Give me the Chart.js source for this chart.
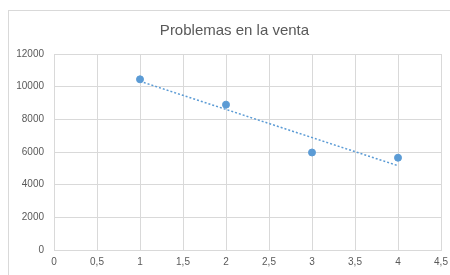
<!DOCTYPE html>
<html>
<head>
<meta charset="utf-8">
<script src="https://cdn.jsdelivr.net/npm/chart.js@4"></script>
<style>
  html, body { margin: 0; padding: 0; background: #fff; }
  #wrap { position: relative; width: 450px; height: 275px; overflow: hidden; }
  #frame { position: absolute; left: 8px; top: 10px; width: 460px; height: 290px; border: 1px solid #d9d9d9; box-sizing: border-box; }
  canvas { position: absolute; left: 0; top: 0; }
</style>
</head>
<body>
<div id="wrap">
  <div id="frame"></div>
  <canvas id="chart" width="450" height="275"></canvas>
</div>
<script>
// values
const xValues = [1, 2, 3, 4];
const salesValues = [10450, 8900, 5970, 5650];
// linear trendline, end points as drawn in the reference
const trendX = [1, 4];
const trendY = [10330, 5160];
const titleText = 'Problemas en la venta';

const grey = '#595959';
const gridColor = '#d9d9d9';
const blue = '#5b9bd5';

// title centred on the outer frame rather than the canvas
const frameTitle = {
    id: 'frameTitle',
    afterDraw(chart) {
        const c = chart.ctx;
        c.save();
        c.fillStyle = grey;
        c.font = '15px "Liberation Sans"';
        c.textAlign = 'center';
        c.textBaseline = 'middle';
        c.fillText(titleText, 234.5, 31);
        c.restore();
    }
};

const ctx = document.getElementById('chart').getContext('2d');
new Chart(ctx, {
    type: 'scatter',
    data: {
        datasets: [{
            label: 'Ventas',
            data: xValues.map((x, i) => ({ x: x, y: salesValues[i] })),
            backgroundColor: blue,
            borderColor: blue,
            pointRadius: 3.5,
            pointHoverRadius: 3.5,
            order: 1
        }, {
            label: 'Tendencia',
            type: 'line',
            data: trendX.map((x, i) => ({ x: x, y: trendY[i] })),
            borderColor: blue,
            borderWidth: 1.5,
            borderDash: [2, 2],
            pointRadius: 0,
            fill: false,
            order: 2
        }]
    },
    options: {
        responsive: false,
        animation: false,
        layout: { padding: { left: 0, right: 0, top: 54, bottom: 0 } },
        plugins: {
            legend: { display: false },
            tooltip: { enabled: false },
            title: { display: false }
        },
        scales: {
            x: {
                type: 'linear',
                min: 0,
                max: 4.5,
                ticks: {
                    stepSize: 0.5,
                    color: grey,
                    font: { family: 'Liberation Sans', size: 10 },
                    padding: 6,
                    maxRotation: 0,
                    callback: v => String(v).replace('.', ',')
                },
                grid: { color: gridColor, drawTicks: false },
                border: { color: gridColor },
                afterFit: s => { s.height = 25; s.paddingLeft = 0; s.paddingRight = 9; }
            },
            y: {
                min: 0,
                max: 12000,
                ticks: {
                    stepSize: 2000,
                    color: grey,
                    font: { family: 'Liberation Sans', size: 10 },
                    padding: 10,
                    callback: v => String(v)
                },
                grid: { color: gridColor, drawTicks: false },
                border: { display: false },
                afterFit: s => { s.width = 54; }
            }
        }
    },
    plugins: [frameTitle]
});
</script>
</body>
</html>
